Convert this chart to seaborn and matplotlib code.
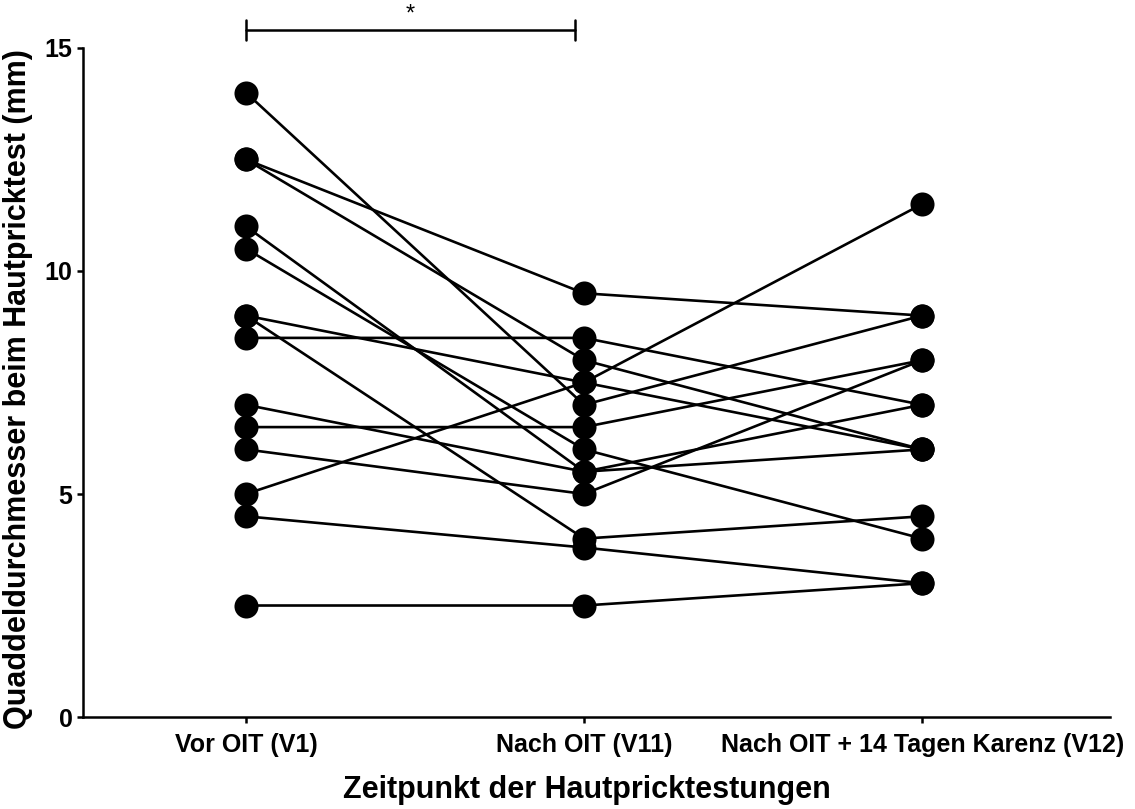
import numpy as np
import pandas as pd
import matplotlib
matplotlib.use('Agg')
import matplotlib.pyplot as plt
import seaborn as sns

sns.set_style('ticks')
plt.rcParams['font.family'] = ['Liberation Sans', 'DejaVu Sans']
plt.rcParams['font.weight'] = 'bold'
plt.rcParams['text.color'] = 'black'
plt.rcParams['axes.labelcolor'] = 'black'
plt.rcParams['xtick.color'] = 'black'
plt.rcParams['ytick.color'] = 'black'

# DATA ----
timepoints = ['Vor OIT (V1)', 'Nach OIT (V11)', 'Nach OIT + 14 Tagen Karenz (V12)']
v1 = [14, 12.5, 12.5, 11, 10.5, 9, 9, 8.5, 7, 6.5, 6, 5, 4.5, 2.5]
v11 = [7, 9.5, 8, 5.5, 6, 7.5, 4, 8.5, 5.5, 6.5, 5, 7.5, 3.8, 2.5]
v12 = [9, 9, 6, 7, 4, 11.5, 4.5, 7, 6, 8, 8, 6, 3, 3]
yticks = [0, 5, 10, 15]

n = len(v1)
df = pd.DataFrame({'patient': np.tile(np.arange(n), 3),
                   'zeit': np.repeat([0, 1, 2], n),
                   'mm': v1 + v11 + v12})

# PLOT ----
fig = plt.figure(figsize=(11.35, 8.09), dpi=100)
ax = fig.add_axes([0.0731, 0.1137, 0.905, 0.827])

sns.lineplot(data=df, x='zeit', y='mm', units='patient', estimator=None,
             color='black', lw=1.9, ax=ax, legend=False)
sns.scatterplot(data=df, x='zeit', y='mm', color='black', s=300,
                linewidth=0, zorder=3, ax=ax, legend=False, clip_on=False)

ax.set_xlim(-0.482, 2.556)
ax.set_ylim(0, 15)
ax.set_xticks([0, 1, 2])
ax.set_xticklabels(timepoints)
ax.set_yticks(yticks)
ax.tick_params(axis='both', labelsize=18, width=1.8, length=4.5, color='black', labelcolor='black')
ax.tick_params(axis='x', pad=7)
ax.tick_params(axis='y', pad=3)
for lab in ax.get_xticklabels() + ax.get_yticklabels():
    lab.set_fontweight('bold')

sns.despine(ax=ax)
for side in ['left', 'bottom']:
    ax.spines[side].set_linewidth(1.8)
    ax.spines[side].set_color('black')

ax.set_xlabel('Zeitpunkt der Hautpricktestungen', fontsize=22, fontweight='bold', color='black')
ax.set_ylabel('Quaddeldurchmesser beim Hautpricktest (mm)', fontsize=22, fontweight='bold', color='black')
ax.xaxis.label.set_va('center')
ax.yaxis.label.set_va('center')
ax.xaxis.set_label_coords(0.491, -0.109)
ax.yaxis.set_label_coords(-0.063, 0.49)

# SIGNIFICANCE BAR ----
bar_y = 15.4
ax.plot([0, 0.973], [bar_y, bar_y], color='black', lw=1.8, clip_on=False)
for xx in [0, 0.973]:
    ax.plot([xx, xx], [bar_y - 0.22, bar_y + 0.22], color='black', lw=1.8, clip_on=False)
ax.text(0.486, bar_y + 0.1, '*', ha='center', va='bottom', fontsize=17, fontweight='normal', color='black')

fig.savefig('out.png', dpi=100)
